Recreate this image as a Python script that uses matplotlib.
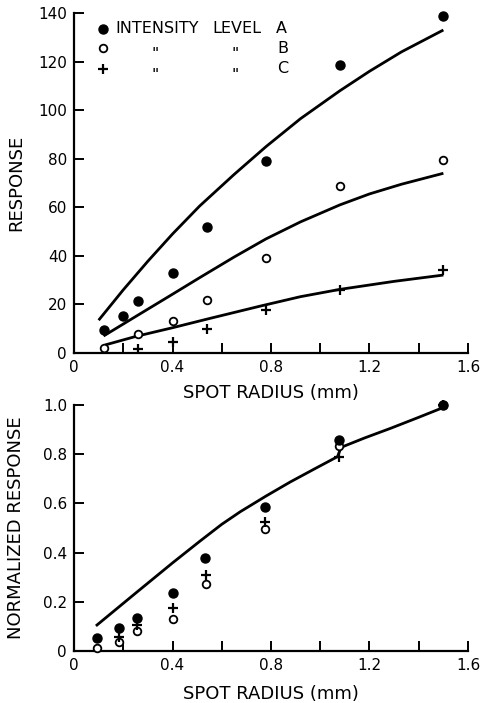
import matplotlib
matplotlib.use("Agg")
import matplotlib.pyplot as plt

plt.rcParams['font.family'] = ['DejaVu Sans']

# ---------------- data: top panel (raw response) ----------------
xA = [0.12, 0.20, 0.26, 0.40, 0.54, 0.78, 1.08, 1.50]
yA = [9.3, 15.2, 21.5, 33.1, 51.8, 79.1, 118.5, 138.8]
xB = [0.12, 0.26, 0.40, 0.54, 0.78, 1.08, 1.50]
yB = [1.9, 7.8, 13.2, 21.8, 39.3, 68.9, 79.5]
xC = [0.26, 0.40, 0.54, 0.78, 1.08, 1.50]
yC = [1.6, 4.7, 9.7, 17.7, 26.0, 34.2]

# fitted curves
cAx = [0.10, 0.20, 0.30, 0.40, 0.51, 0.65, 0.78, 0.92, 1.08, 1.20, 1.33, 1.50]
cAy = [13.5, 26.0, 37.8, 49.0, 60.5, 73.5, 85.0, 96.5, 108.0, 116.0, 124.0, 133.0]
cBx = [0.12, 0.25, 0.40, 0.51, 0.65, 0.78, 0.92, 1.08, 1.20, 1.33, 1.50]
cBy = [7.0, 15.0, 24.2, 31.0, 39.5, 47.0, 54.0, 61.0, 65.5, 69.5, 74.0]
cCx = [0.126, 0.25, 0.40, 0.55, 0.76, 0.92, 1.08, 1.30, 1.50]
cCy = [3.3, 6.8, 10.4, 14.2, 19.4, 23.2, 26.2, 29.5, 32.1]

# ---------------- data: bottom panel (normalized) ----------------
nxA = [0.095, 0.183, 0.255, 0.40, 0.533, 0.774, 1.078, 1.50]
nyA = [0.054, 0.095, 0.135, 0.237, 0.377, 0.587, 0.858, 1.0]
nxB = [0.095, 0.184, 0.255, 0.40, 0.537, 0.774, 1.078, 1.50]
nyB = [0.013, 0.038, 0.081, 0.129, 0.271, 0.496, 0.835, 1.0]
nxC = [0.184, 0.255, 0.40, 0.535, 0.774, 1.078, 1.50]
nyC = [0.058, 0.106, 0.176, 0.309, 0.526, 0.787, 1.0]
ncx = [0.089, 0.25, 0.40, 0.512, 0.60, 0.675, 0.78, 0.878, 0.98, 1.07, 1.085, 1.18, 1.285, 1.40, 1.50]
ncy = [0.102, 0.235, 0.358, 0.447, 0.515, 0.566, 0.630, 0.687, 0.742, 0.790, 0.828, 0.866, 0.905, 0.950, 0.99]

# ticks
xticks = [0, 0.2, 0.4, 0.6, 0.8, 1.0, 1.2, 1.4, 1.6]
xticklabels = ['0', '', '0.4', '', '0.8', '', '1.2', '', '1.6']
yticks_top = [0, 20, 40, 60, 80, 100, 120, 140]
yticklabels_top = ['0', '20', '40', '60', '80', '100', '120', '140']
yticks_bot = [0, 0.2, 0.4, 0.6, 0.8, 1.0]
yticklabels_bot = ['0', '0.2', '0.4', '0.6', '0.8', '1.0']

W, H = 484, 703
fig = plt.figure(figsize=(W / 100, H / 100), dpi=100)
ax1 = fig.add_axes([74 / W, 1 - 353 / H, 394 / W, 340 / H])
ax2 = fig.add_axes([74 / W, 1 - 651 / H, 394 / W, 246 / H])

filled = dict(marker='o', ls='none', color='black', ms=6.5, zorder=4, clip_on=False)
openm = dict(marker='o', ls='none', mfc='white', mec='black', mew=1.3, ms=5.5, zorder=3, clip_on=False)
plus = dict(marker='+', ls='none', color='black', ms=7.5, mew=1.6, zorder=3, clip_on=False)
curve = dict(color='black', lw=2.0, solid_capstyle='butt', solid_joinstyle='round', zorder=2)

for ax in (ax1, ax2):
    for s in ('top', 'right'):
        ax.spines[s].set_visible(False)
    for s in ('left', 'bottom'):
        ax.spines[s].set_linewidth(1.6)
    ax.tick_params(direction='in', length=7, width=1.4, labelsize=11)
    ax.tick_params(axis='y', pad=5)
    ax.tick_params(axis='x', pad=5)
    ax.set_xlim(0, 1.6)
    ax.set_xticks(xticks)
    ax.set_xticklabels(xticklabels)
    ax.set_xlabel('SPOT RADIUS (mm)', fontsize=13)

# top panel
ax1.plot(cAx, cAy, **curve)
ax1.plot(cBx, cBy, **curve)
ax1.plot(cCx, cCy, **curve)
ax1.plot(xB, yB, **openm)
ax1.plot(xC, yC, **plus)
ax1.plot(xA, yA, **filled)
ax1.set_ylim(0, 140)
ax1.set_yticks(yticks_top)
ax1.set_yticklabels(yticklabels_top)
ax1.set_ylabel('RESPONSE', fontsize=13)
ax1.yaxis.set_label_coords(-0.125, 0.5)
ax1.xaxis.set_label_coords(0.5, -0.092)

# legend drawn as text
tr = ax1.transAxes
ax1.plot([0.074], [0.953], transform=tr, **filled)
ax1.plot([0.074], [0.897], transform=tr, **openm)
ax1.plot([0.074], [0.836], transform=tr, **plus)
lg = dict(transform=tr, fontsize=11.5, va='center')
ax1.text(0.104, 0.953, 'INTENSITY', ha='left', **lg)
ax1.text(0.350, 0.953, 'LEVEL', ha='left', **lg)
ax1.text(0.513, 0.953, 'A', ha='left', **lg)
for yy, lab in ((0.897, 'B'), (0.836, 'C')):
    ax1.text(0.206, yy - 0.02, '"', ha='center', **lg)
    ax1.text(0.409, yy - 0.02, '"', ha='center', **lg)
    ax1.text(0.515, yy, lab, ha='left', **lg)

# bottom panel
ax2.plot(ncx, ncy, **curve)
ax2.plot(nxB, nyB, **openm)
ax2.plot(nxC, nyC, **plus)
ax2.plot(nxA, nyA, **filled)
ax2.set_ylim(0, 1.0)
ax2.set_yticks(yticks_bot)
ax2.set_yticklabels(yticklabels_bot)
ax2.set_ylabel('NORMALIZED RESPONSE', fontsize=13)
ax2.yaxis.set_label_coords(-0.125, 0.5)
ax2.xaxis.set_label_coords(0.5, -0.138)

fig.savefig('out.png', dpi=100)
